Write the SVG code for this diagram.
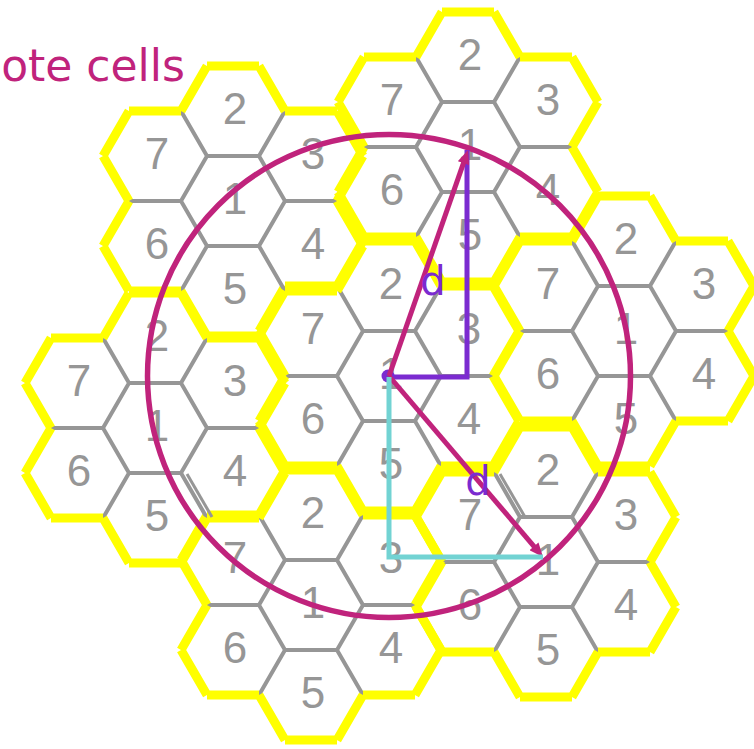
<svg xmlns="http://www.w3.org/2000/svg" xmlns:xlink="http://www.w3.org/1999/xlink" width="754" height="749" viewBox="0 0 754 749">
<style>
.gray{fill:none;stroke:#969696;stroke-width:4;stroke-linecap:butt;stroke-linejoin:miter}
.thin{fill:none;stroke:#969696;stroke-width:3;stroke-linecap:butt}
.yel{fill:none;stroke:#ffff00;stroke-width:9;stroke-linecap:butt}
.lbl{font-family:"Liberation Sans",Arial,sans-serif;font-size:44px;fill:#969696;text-anchor:middle}
.d{font-family:"DejaVu Sans",Verdana,sans-serif;font-size:40px;fill:#7b2bd0;text-anchor:middle}
.title{font-family:"DejaVu Sans",Verdana,sans-serif;font-size:44px;fill:#c0237c;text-anchor:end}
</style>
<defs>
<path id="inner" class="gray" d="M-26,-45 L26,-45 L52,0 L26,45 L-26,45 L-52,0 Z M26,-45 L52,-90 M52,0 L104,0 M26,45 L52,90 M-26,45 L-52,90 M-52,0 L-104,0 M-26,-45 L-52,-90"/>
<path id="outline" class="yel" d="M-26,-135 L26,-135 M26,-135 L52,-90 M52,-90 L104,-90 M104,-90 L130,-45 M130,-45 L104,0 M104,0 L130,45 M130,45 L104,90 M104,90 L52,90 M52,90 L26,135 M26,135 L-26,135 M-26,135 L-52,90 M-52,90 L-104,90 M-104,90 L-130,45 M-130,45 L-104,0 M-104,0 L-130,-45 M-130,-45 L-104,-90 M-104,-90 L-52,-90 M-52,-90 L-26,-135"/>
<g id="labels">
<text class="lbl" x="2" y="13">1</text>
<text class="lbl" x="2" y="-77">2</text>
<text class="lbl" x="80" y="-32">3</text>
<text class="lbl" x="80" y="58">4</text>
<text class="lbl" x="2" y="103">5</text>
<text class="lbl" x="-76" y="58">6</text>
<text class="lbl" x="-76" y="-32">7</text>
</g>
<marker id="arr" markerUnits="userSpaceOnUse" markerWidth="14" markerHeight="12" refX="6" refY="6" orient="auto">
<path d="M0,0 L14,6 L0,12 Z" fill="#c0237c"/>
</marker>
</defs>
<rect width="754" height="749" fill="#ffffff"/>
<text class="title" x="185" y="81">ote cells</text>
<g id="cluster-center" transform="translate(389,376)"><use xlink:href="#inner"/><use xlink:href="#outline"/><use xlink:href="#labels"/></g>
<g id="cluster-top" transform="translate(468,147)"><use xlink:href="#inner"/><use xlink:href="#outline"/><use xlink:href="#labels"/></g>
<g id="cluster-right" transform="translate(624,331)"><use xlink:href="#inner"/><use xlink:href="#outline"/><use xlink:href="#labels"/></g>
<g id="cluster-lowerright" transform="translate(546,562)"><use xlink:href="#inner"/><use xlink:href="#outline"/><use xlink:href="#labels"/><path class="thin" d="M-46,-88 L-21,-45"/></g>
<g id="cluster-bottom" transform="translate(311,605)"><use xlink:href="#inner"/><use xlink:href="#outline"/><use xlink:href="#labels"/></g>
<g id="cluster-left" transform="translate(155,428)"><use xlink:href="#inner"/><use xlink:href="#outline"/><use xlink:href="#labels"/><path class="thin" d="M32,46 L57,89"/></g>
<g id="cluster-upperleft" transform="translate(233,201)"><use xlink:href="#inner"/><use xlink:href="#outline"/><use xlink:href="#labels"/></g>
<g id="connectors">
<circle cx="389" cy="376" r="241.5" fill="none" stroke="#c0237c" stroke-width="5.5"/>
<circle cx="388" cy="376" r="6.5" fill="#7b2bd0"/>
<path d="M467,150 L467,377 L389,377" fill="none" stroke="#7b2bd0" stroke-width="5"/>
<line x1="389" y1="376" x2="465.4" y2="157.6" stroke="#c0237c" stroke-width="5" marker-end="url(#arr)"/>
<line x1="389" y1="376" x2="537.8" y2="550.9" stroke="#c0237c" stroke-width="5" marker-end="url(#arr)"/>
<path d="M389,377 L389,557 L543,557" fill="none" stroke="#72d3d3" stroke-width="5"/>
<text class="d" x="433" y="295">d</text>
<text class="d" x="478" y="495">d</text>
</g>
</svg>
